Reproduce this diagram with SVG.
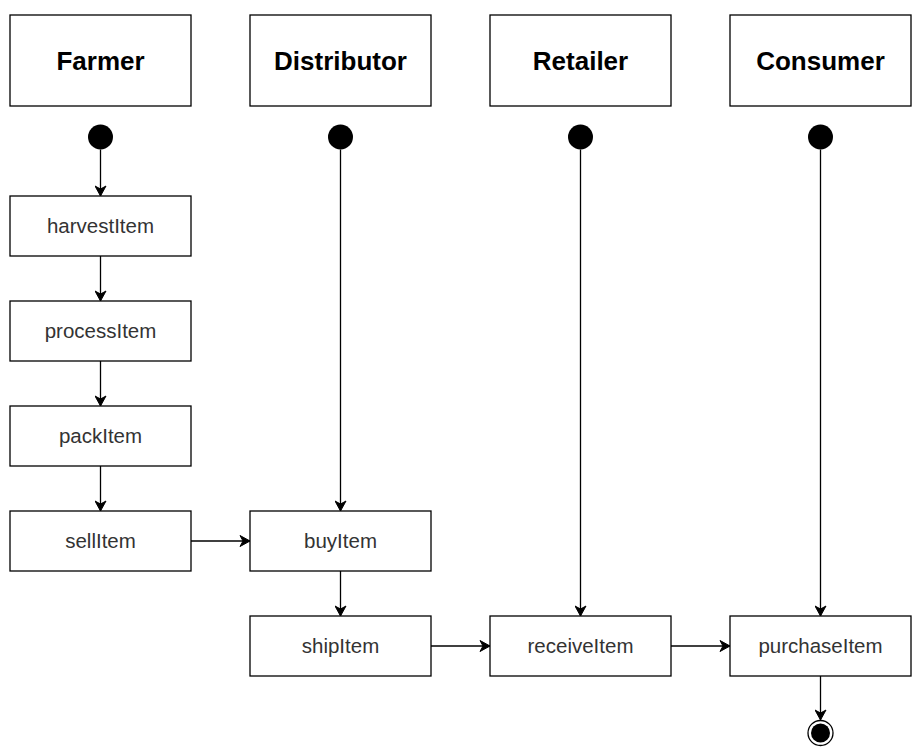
<svg xmlns="http://www.w3.org/2000/svg" width="921" height="752" viewBox="0 0 921 752">
<style>
.box{fill:#fff;stroke:#000;stroke-width:1.3}
.hdr{font-family:"Liberation Sans",Arial,sans-serif;font-weight:bold;font-size:26px;fill:#000;text-anchor:middle}
.lbl{font-family:"Liberation Sans",Arial,sans-serif;font-size:20.5px;fill:#333;text-anchor:middle}
.edge{fill:none;stroke:#000;stroke-width:1.3;marker-end:url(#arr)}
.start{fill:#000}
</style>
<defs>
<marker id="arr" markerUnits="userSpaceOnUse" viewBox="-11 -6 12 12" refX="0" refY="0" markerWidth="12" markerHeight="12" orient="auto">
<path d="M0,0 L-10,-5.5 L-7,0 L-10,5.5 Z" fill="#000" stroke="#000" stroke-width="1"/>
</marker>
</defs>
<rect width="921" height="752" fill="#fff"/>
<g id="lane-farmer"><rect class="box" x="10" y="15" width="181" height="91"/><text class="hdr" x="100.5" y="69.5">Farmer</text></g>
<g id="lane-distributor"><rect class="box" x="250" y="15" width="181" height="91"/><text class="hdr" x="340.5" y="69.5">Distributor</text></g>
<g id="lane-retailer"><rect class="box" x="490" y="15" width="181" height="91"/><text class="hdr" x="580.5" y="69.5">Retailer</text></g>
<g id="lane-consumer"><rect class="box" x="730" y="15" width="181" height="91"/><text class="hdr" x="820.5" y="69.5">Consumer</text></g>
<g id="start-farmer"><circle class="start" cx="100.5" cy="137" r="12.5"/></g>
<g id="start-distributor"><circle class="start" cx="340.5" cy="137" r="12.5"/></g>
<g id="start-retailer"><circle class="start" cx="580.5" cy="137" r="12.5"/></g>
<g id="start-consumer"><circle class="start" cx="820.5" cy="137" r="12.5"/></g>
<g id="harvestItem"><rect class="box" x="10" y="196" width="181" height="60"/><text class="lbl" x="100.5" y="233">harvestItem</text></g>
<g id="processItem"><rect class="box" x="10" y="301" width="181" height="60"/><text class="lbl" x="100.5" y="338">processItem</text></g>
<g id="packItem"><rect class="box" x="10" y="406" width="181" height="60"/><text class="lbl" x="100.5" y="443">packItem</text></g>
<g id="sellItem"><rect class="box" x="10" y="511" width="181" height="60"/><text class="lbl" x="100.5" y="548">sellItem</text></g>
<g id="buyItem"><rect class="box" x="250" y="511" width="181" height="60"/><text class="lbl" x="340.5" y="548">buyItem</text></g>
<g id="shipItem"><rect class="box" x="250" y="616" width="181" height="60"/><text class="lbl" x="340.5" y="653">shipItem</text></g>
<g id="receiveItem"><rect class="box" x="490" y="616" width="181" height="60"/><text class="lbl" x="580.5" y="653">receiveItem</text></g>
<g id="purchaseItem"><rect class="box" x="730" y="616" width="181" height="60"/><text class="lbl" x="820.5" y="653">purchaseItem</text></g>
<g id="end"><circle cx="820.5" cy="733" r="12.5" fill="#fff" stroke="#000" stroke-width="1.3"/><circle cx="820.5" cy="733" r="9.5" fill="#000"/></g>
<g id="connectors">
<path class="edge" d="M100.5,149.5 L100.5,196"/>
<path class="edge" d="M100.5,256 L100.5,301"/>
<path class="edge" d="M100.5,361 L100.5,406"/>
<path class="edge" d="M100.5,466 L100.5,511"/>
<path class="edge" d="M191,541 L250,541"/>
<path class="edge" d="M340.5,149.5 L340.5,511"/>
<path class="edge" d="M340.5,571 L340.5,616"/>
<path class="edge" d="M431,646 L490,646"/>
<path class="edge" d="M580.5,149.5 L580.5,616"/>
<path class="edge" d="M671,646 L730,646"/>
<path class="edge" d="M820.5,149.5 L820.5,616"/>
<path class="edge" d="M820.5,676 L820.5,720"/>
</g>
</svg>
